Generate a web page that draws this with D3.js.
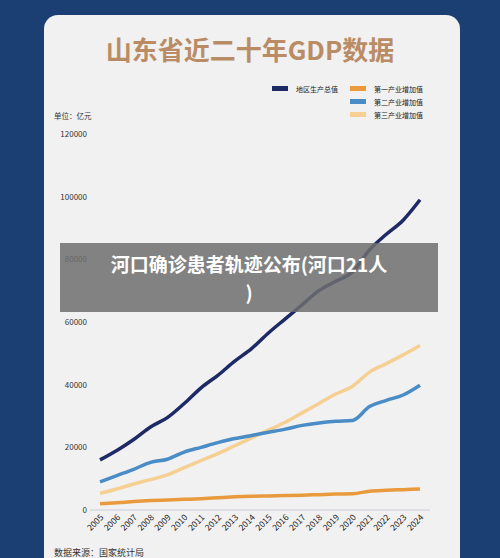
<!DOCTYPE html><html><head><meta charset="utf-8"><script src="https://cdn.jsdelivr.net/npm/d3@7"></script>
<style>body{margin:0;background:#1c3f73;font-family:"Noto Sans CJK SC","Noto Sans",sans-serif}</style></head><body><svg id="c" width="500" height="558"></svg><script>
const years=d3.range(2005,2025).map(String);
const gdp=[16000,19000,22500,26500,29500,34000,39000,43000,47500,51500,56500,61000,65500,70000,73000,76000,83000,88000,92500,99000];
const ind1=[2000,2300,2700,3000,3200,3400,3600,3900,4200,4400,4500,4600,4700,4900,5100,5200,6000,6300,6500,6700];
const ind2=[9000,11000,13000,15200,16200,18500,20000,21500,22800,23800,24800,25800,27000,27800,28300,28600,33000,35000,36700,39800];
const ind3=[5300,6700,8300,9700,11200,13500,15800,18000,20500,23000,25500,28000,31000,34000,37000,39500,44000,46700,49500,52500];
const series=[{n:"地区生产总值",c:"#1e2a66",v:gdp},{n:"第一产业增加值",c:"#e99a3c",v:ind1},{n:"第二产业增加值",c:"#4a8cc6",v:ind2},{n:"第三产业增加值",c:"#f6cf92",v:ind3}];
const yt=[0,20000,40000,60000,80000,100000,120000];
const svg=d3.select("#c");
svg.append("rect").attr("x",44).attr("y",15).attr("width",416).attr("height",560).attr("rx",14).attr("fill","#f1f1f1");
svg.append("text").attr("x",250).attr("y",60).attr("text-anchor","middle").attr("font-size",26).attr("font-weight","bold").attr("fill","#b98c66").text("山东省近二十年GDP数据");
const x=d3.scalePoint().domain(years).range([100,420]);
const y=d3.scaleLinear().domain([0,120000]).range([510,134]);
svg.append("line").attr("x1",90).attr("x2",430).attr("y1",510).attr("y2",510).attr("stroke","#ccd");
svg.selectAll(".yt").data(yt).join("text").attr("x",87).attr("y",d=>y(d)+3).attr("text-anchor","end").attr("font-size",8).attr("fill","#333").text(d=>d);
svg.selectAll(".xt").data(years).join("text").attr("transform",d=>`translate(${x(d)+4},${518}) rotate(-45)`).attr("text-anchor","end").attr("font-size",8.5).attr("fill","#222").text(d=>d);
svg.append("text").attr("x",54).attr("y",119).attr("font-size",7.5).attr("fill","#333").text("单位：亿元");
svg.append("text").attr("x",54).attr("y",556).attr("font-size",9).attr("fill","#333").text("数据来源：国家统计局");
const line=d3.line().x((d,i)=>x(years[i])).y(d=>y(d)).curve(d3.curveMonotoneX);
series.slice().reverse().forEach(s=>svg.append("path").attr("d",line(s.v)).attr("fill","none").attr("stroke",s.c).attr("stroke-width",3.5));
const lp=[[272,89],[350,89],[350,102],[350,115]];
series.forEach((s,i)=>{svg.append("rect").attr("x",lp[i][0]).attr("y",lp[i][1]-3).attr("width",16).attr("height",5).attr("fill",s.c);
svg.append("text").attr("x",lp[i][0]+24).attr("y",lp[i][1]+3).attr("font-size",7).attr("fill","#222").text(s.n);});
svg.append("rect").attr("x",60).attr("y",243).attr("width",378).attr("height",69).attr("fill","rgba(110,110,110,0.85)");
svg.append("text").attr("x",249).attr("y",272).attr("text-anchor","middle").attr("font-size",19).attr("font-weight","bold").attr("fill","#fff").text("河口确诊患者轨迹公布(河口21人");
svg.append("text").attr("x",249).attr("y",300).attr("text-anchor","middle").attr("font-size",19).attr("font-weight","bold").attr("fill","#fff").text(")");
</script></body></html>
